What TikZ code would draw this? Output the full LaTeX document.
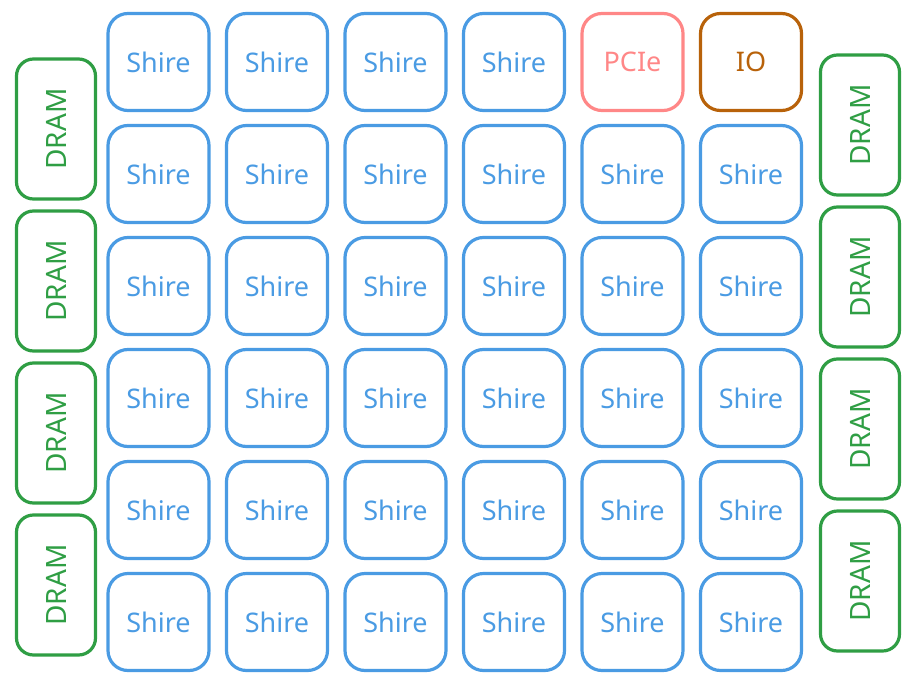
\documentclass[tikz,border=0pt]{standalone}
\usepackage{fontspec}
\setmainfont{Noto Sans}
\usepackage{xcolor}
\usepackage{tikz}
\usetikzlibrary{positioning}
\definecolor{ShireBlue}{HTML}{4A9BE3}
\definecolor{PcieRed}{HTML}{FF8787}
\definecolor{IoBrown}{HTML}{B8620A}
\definecolor{DramGreen}{HTML}{2F9E44}
\tikzset{
  chipbox/.style={draw, rounded corners=20pt, line width=3.2pt, inner sep=0pt, outer sep=0pt,
    minimum width=101pt, minimum height=97pt},
  shirebox/.style={chipbox, draw=ShireBlue, text=ShireBlue},
  pciebox/.style={chipbox, draw=PcieRed, text=PcieRed},
  iobox/.style={chipbox, draw=IoBrown, text=IoBrown},
  drambox/.style={chipbox, draw=DramGreen, text=DramGreen, rounded corners=17pt,
    minimum width=79pt, minimum height=140pt, font=\fontsize{28}{32}\selectfont}
}
\begin{document}
\begin{tikzpicture}[x=1pt, y=-1pt, node distance=15pt and 17.5pt, every node/.style={font=\fontsize{27}{31}\selectfont}]
      \useasboundingbox (0,0) rectangle (917,687);
      % top row
      \node[shirebox] (shire11) at (158.5,62) {Shire};
      \node[shirebox, right=of shire11] (shire12) {Shire};
      \node[shirebox, right=of shire12] (shire13) {Shire};
      \node[shirebox, right=of shire13] (shire14) {Shire};
      \node[pciebox, right=of shire14] (pcie) {PCIe};
      \node[iobox, right=of pcie] (io) {IO};
      % row 2
      \node[shirebox, below=of shire11] (shire21) {Shire};
      \node[shirebox, right=of shire21] (shire22) {Shire};
      \node[shirebox, right=of shire22] (shire23) {Shire};
      \node[shirebox, right=of shire23] (shire24) {Shire};
      \node[shirebox, right=of shire24] (shire25) {Shire};
      \node[shirebox, right=of shire25] (shire26) {Shire};
      % row 3
      \node[shirebox, below=of shire21] (shire31) {Shire};
      \node[shirebox, right=of shire31] (shire32) {Shire};
      \node[shirebox, right=of shire32] (shire33) {Shire};
      \node[shirebox, right=of shire33] (shire34) {Shire};
      \node[shirebox, right=of shire34] (shire35) {Shire};
      \node[shirebox, right=of shire35] (shire36) {Shire};
      % row 4
      \node[shirebox, below=of shire31] (shire41) {Shire};
      \node[shirebox, right=of shire41] (shire42) {Shire};
      \node[shirebox, right=of shire42] (shire43) {Shire};
      \node[shirebox, right=of shire43] (shire44) {Shire};
      \node[shirebox, right=of shire44] (shire45) {Shire};
      \node[shirebox, right=of shire45] (shire46) {Shire};
      % row 5
      \node[shirebox, below=of shire41] (shire51) {Shire};
      \node[shirebox, right=of shire51] (shire52) {Shire};
      \node[shirebox, right=of shire52] (shire53) {Shire};
      \node[shirebox, right=of shire53] (shire54) {Shire};
      \node[shirebox, right=of shire54] (shire55) {Shire};
      \node[shirebox, right=of shire55] (shire56) {Shire};
      % row 6
      \node[shirebox, below=of shire51] (shire61) {Shire};
      \node[shirebox, right=of shire61] (shire62) {Shire};
      \node[shirebox, right=of shire62] (shire63) {Shire};
      \node[shirebox, right=of shire63] (shire64) {Shire};
      \node[shirebox, right=of shire64] (shire65) {Shire};
      \node[shirebox, right=of shire65] (shire66) {Shire};
      % DRAM left
      \node[drambox] (dramL1) at (56,129) {\rotatebox{90}{DRAM}};
      \node[drambox, below=12pt of dramL1] (dramL2) {\rotatebox{90}{DRAM}};
      \node[drambox, below=12pt of dramL2] (dramL3) {\rotatebox{90}{DRAM}};
      \node[drambox, below=12pt of dramL3] (dramL4) {\rotatebox{90}{DRAM}};
      % DRAM right
      \node[drambox] (dramR1) at (860,125) {\rotatebox{90}{DRAM}};
      \node[drambox, below=12pt of dramR1] (dramR2) {\rotatebox{90}{DRAM}};
      \node[drambox, below=12pt of dramR2] (dramR3) {\rotatebox{90}{DRAM}};
      \node[drambox, below=12pt of dramR3] (dramR4) {\rotatebox{90}{DRAM}};
    \end{tikzpicture}
\end{document}
